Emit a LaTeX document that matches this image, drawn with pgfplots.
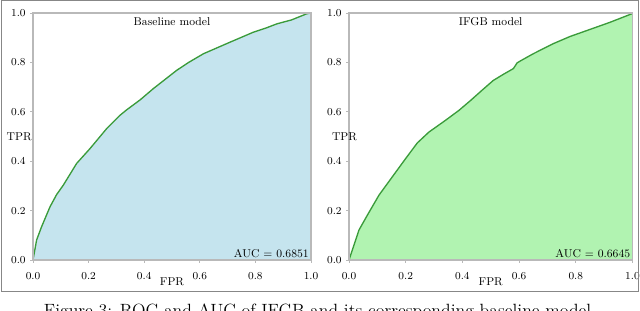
\documentclass[border=0pt]{standalone}
\usepackage{pgfplots}
\usepackage{pgfplotstable}
\pgfplotsset{compat=1.18}
\definecolor{fillblue}{RGB}{197,228,238}
\definecolor{fillgreen}{RGB}{177,243,177}
\definecolor{linegreen}{RGB}{58,155,58}
\definecolor{axgray}{RGB}{185,185,185}
\definecolor{framegray}{RGB}{135,135,135}
\pgfplotstableread{
x y
0 0
0.013 0.081
0.031 0.135
0.061 0.215
0.085 0.265
0.109 0.303
0.157 0.391
0.205 0.451
0.265 0.532
0.313 0.586
0.337 0.608
0.385 0.648
0.433 0.694
0.517 0.768
0.560 0.800
0.613 0.835
0.660 0.858
0.709 0.882
0.792 0.922
0.840 0.940
0.877 0.956
0.930 0.972
0.985 0.997
1.0 1.0
}\baseline
\pgfplotstableread{
x y
0 0
0.035 0.121
0.065 0.182
0.106 0.263
0.153 0.337
0.200 0.411
0.241 0.474
0.282 0.518
0.341 0.566
0.388 0.606
0.429 0.646
0.470 0.688
0.509 0.727
0.545 0.752
0.580 0.775
0.593 0.798
0.603 0.805
0.650 0.835
0.721 0.876
0.780 0.905
0.839 0.929
0.920 0.962
0.998 0.997
1.0 1.0
}\ifgb
\begin{document}
\begin{tikzpicture}
\pgfplotsset{rocax/.style={
  scale only axis, height=185.25pt,
  xmin=0, xmax=1, ymin=0, ymax=1,
  axis on top, clip=false,
  axis line style={axgray, line width=1.2pt},
  xtick={0,0.2,0.4,0.6,0.8,1.0}, ytick={0,0.2,0.4,0.6,0.8,1.0},
  tick style={axgray, line width=0.6pt},
  tick align=outside, major tick length=2pt,
  xtick pos=bottom, ytick pos=left,
  /pgf/number format/.cd, fixed, fixed zerofill, precision=1, /pgfplots/.cd,
  ticklabel style={font=\fontsize{8.5}{10}\selectfont},
  xticklabel style={yshift=-4pt},
  xlabel=FPR, ylabel=TPR,
  xlabel style={font=\fontsize{8.5}{10}\selectfont, at={(axis description cs:0.5,0)}, anchor=north, yshift=-10pt},
  ylabel style={font=\fontsize{8.5}{10}\selectfont, rotate=-90, at={(axis description cs:0,0.5)}, anchor=east, xshift=2.5pt},
}}
\begin{axis}[rocax, at={(24.75pt,38.25pt)}, anchor=south west, width=208.5pt]
\addplot[fill=fillblue, draw=none] table {\baseline} \closedcycle;
\addplot[linegreen, line width=1pt] table {\baseline};
\node[anchor=north, font=\fontsize{8.5}{10}\selectfont] at (axis description cs:0.5,1) {Baseline model};
\node[anchor=south east, inner sep=1.5pt, font=\fontsize{8.5}{10}\selectfont] at (axis description cs:1,0) {AUC = 0.6851};
\end{axis}
\begin{axis}[rocax, at={(261.75pt,38.25pt)}, anchor=south west, width=212.6pt, ylabel style={xshift=7pt}]
\addplot[fill=fillgreen, draw=none] table {\ifgb} \closedcycle;
\addplot[linegreen, line width=1pt] table {\ifgb};
\node[anchor=north, font=\fontsize{8.5}{10}\selectfont] at (axis description cs:0.5,1) {IFGB model};
\node[anchor=south east, inner sep=1.5pt, font=\fontsize{8.5}{10}\selectfont] at (axis description cs:1,0) {AUC = 0.6645};
\end{axis}
\draw[framegray, line width=0.75pt] (0.75pt,14.25pt) rectangle (478.875pt,232.875pt);
\node[anchor=north, inner sep=0pt, font=\fontsize{13.3}{15}\selectfont] at (240pt,5.5pt) {Figure 3: ROC and AUC of IFGB and its corresponding baseline model.};
\pgfresetboundingbox
\useasboundingbox (0,0) rectangle (480pt,233.25pt);
\end{tikzpicture}
\end{document}
